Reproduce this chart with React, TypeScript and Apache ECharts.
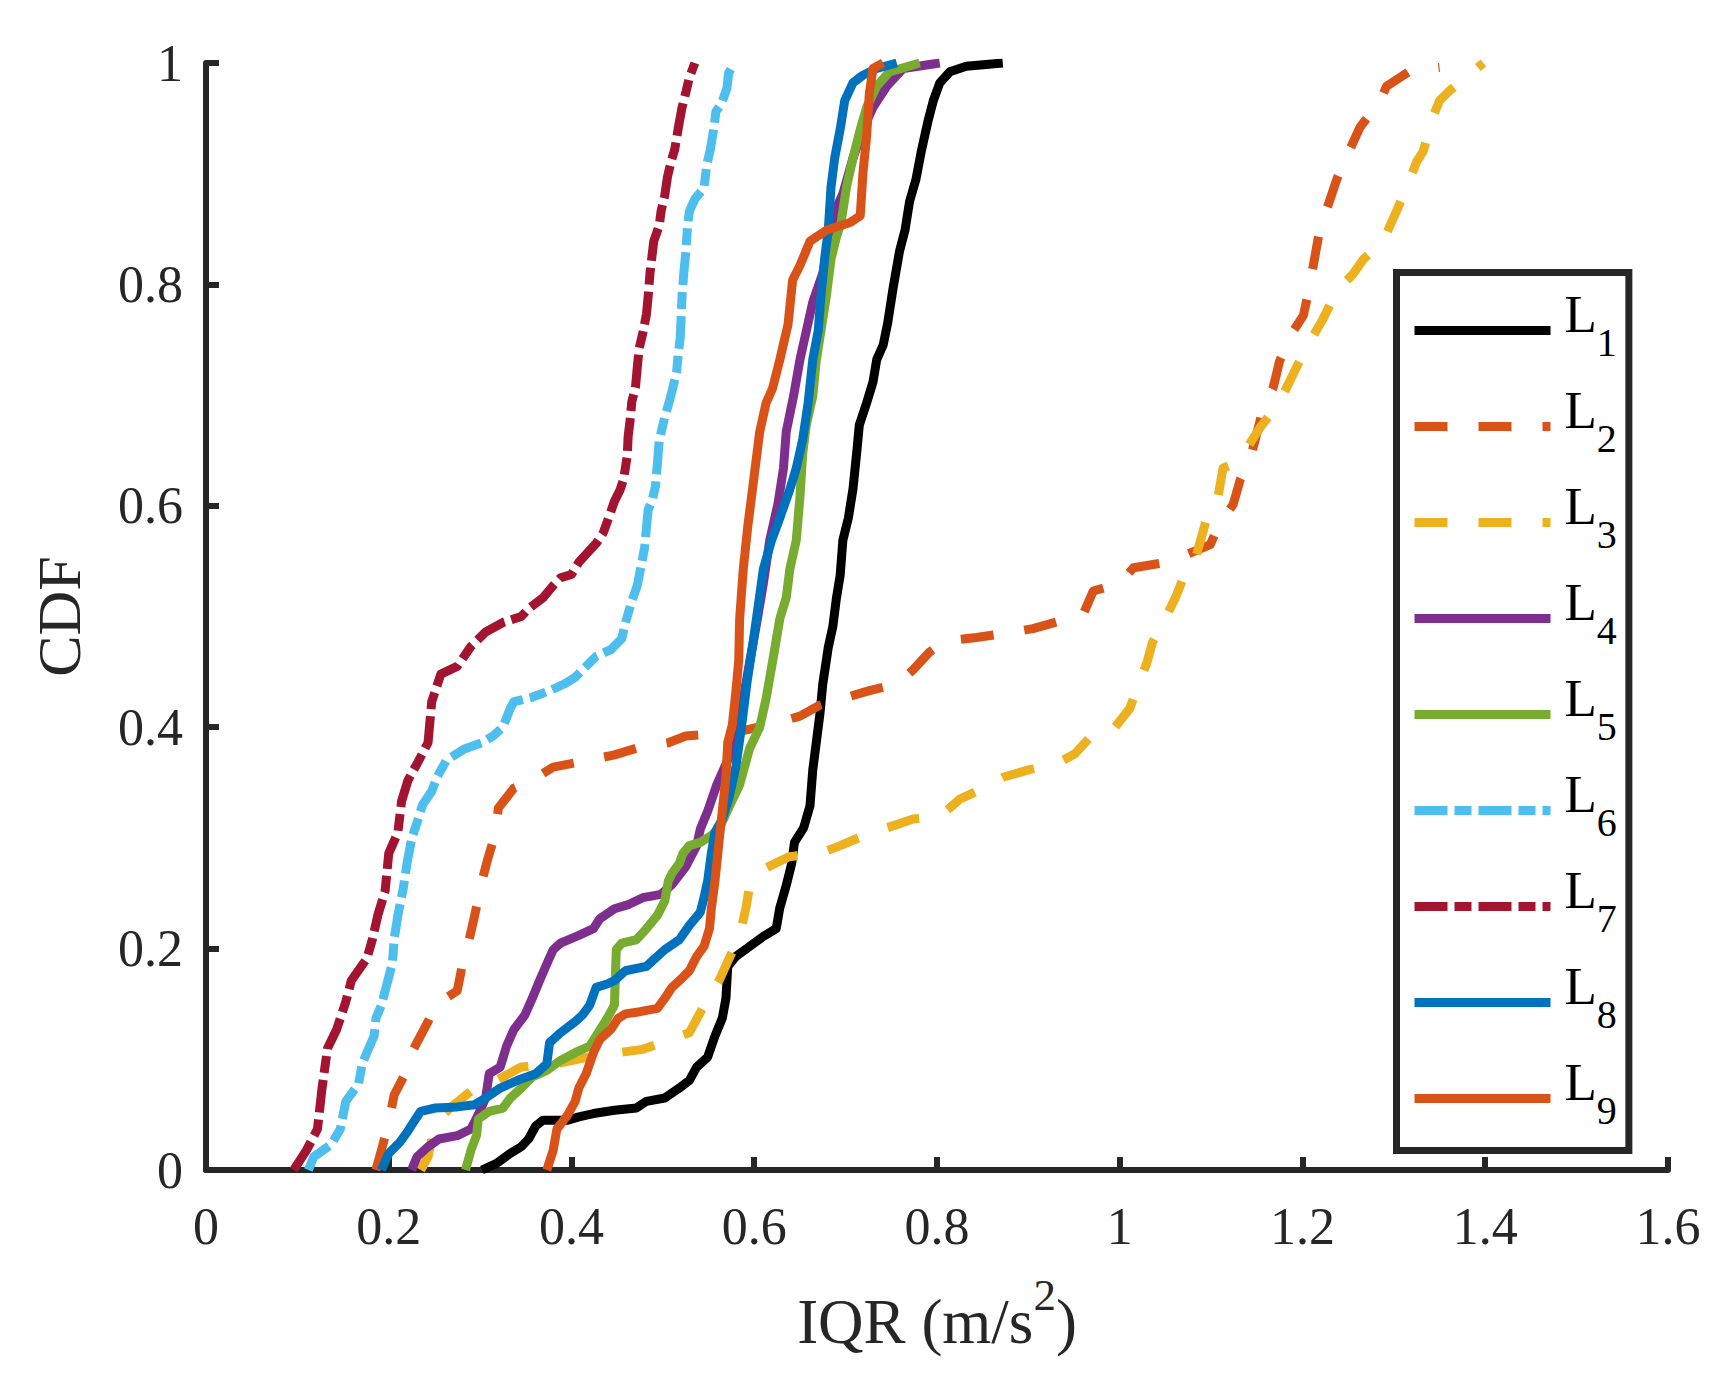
import React, { useEffect, useRef } from 'react';
import * as echarts from 'echarts';

// CDF curves of IQR as [IQR, CDF] pairs
const L1: number[][] = [
  [0.302, 0], [0.318, 0.006], [0.333, 0.015], [0.345, 0.021], [0.353, 0.028], [0.361, 0.04], [0.369, 0.045],
  [0.396, 0.045], [0.408, 0.048], [0.424, 0.051], [0.447, 0.054], [0.471, 0.056], [0.482, 0.062], [0.502, 0.065],
  [0.518, 0.074], [0.529, 0.081], [0.537, 0.093], [0.549, 0.102], [0.557, 0.121], [0.565, 0.137], [0.569, 0.155],
  [0.571, 0.184], [0.58, 0.193], [0.595, 0.202], [0.61, 0.211], [0.624, 0.218], [0.628, 0.237], [0.635, 0.257],
  [0.641, 0.277], [0.644, 0.296], [0.654, 0.309], [0.661, 0.329], [0.664, 0.361], [0.668, 0.387], [0.672, 0.413],
  [0.675, 0.439], [0.681, 0.472], [0.686, 0.491], [0.69, 0.517], [0.694, 0.537], [0.697, 0.569], [0.703, 0.589],
  [0.708, 0.615], [0.712, 0.647], [0.715, 0.673], [0.723, 0.693], [0.73, 0.712], [0.734, 0.732], [0.741, 0.745],
  [0.746, 0.765], [0.752, 0.797], [0.759, 0.83], [0.765, 0.849], [0.77, 0.875], [0.777, 0.895], [0.783, 0.921],
  [0.79, 0.947], [0.796, 0.966], [0.803, 0.982], [0.814, 0.992], [0.832, 0.997], [0.872, 1.0],
];
const L2: number[][] = [
  [0.186, 0], [0.192, 0.018], [0.2, 0.043], [0.206, 0.068], [0.22, 0.09], [0.227, 0.109], [0.243, 0.134],
  [0.251, 0.149], [0.275, 0.162], [0.28, 0.183], [0.288, 0.208], [0.294, 0.23], [0.302, 0.261], [0.308, 0.28],
  [0.316, 0.302], [0.32, 0.327], [0.337, 0.345], [0.357, 0.352], [0.38, 0.364], [0.412, 0.369], [0.447, 0.375],
  [0.471, 0.381], [0.506, 0.386], [0.525, 0.392], [0.565, 0.395], [0.588, 0.397], [0.62, 0.403], [0.65, 0.41],
  [0.672, 0.42], [0.697, 0.426], [0.726, 0.433], [0.756, 0.439], [0.774, 0.452], [0.792, 0.468], [0.81, 0.478],
  [0.843, 0.481], [0.876, 0.485], [0.905, 0.489], [0.935, 0.496], [0.96, 0.502], [0.971, 0.523], [1.0, 0.53],
  [1.015, 0.544], [1.044, 0.548], [1.073, 0.556], [1.099, 0.565], [1.11, 0.585], [1.124, 0.601], [1.132, 0.624],
  [1.143, 0.643], [1.153, 0.675], [1.157, 0.689], [1.168, 0.707], [1.175, 0.731], [1.19, 0.758], [1.201, 0.772],
  [1.208, 0.799], [1.212, 0.818], [1.219, 0.85], [1.227, 0.869], [1.238, 0.896], [1.248, 0.915], [1.263, 0.942],
  [1.285, 0.966], [1.292, 0.979], [1.318, 0.993], [1.35, 0.996],
];
const L3: number[][] = [
  [0.235, 0], [0.243, 0.012], [0.251, 0.043], [0.267, 0.056], [0.294, 0.074], [0.318, 0.081], [0.345, 0.093],
  [0.384, 0.096], [0.424, 0.103], [0.478, 0.109], [0.529, 0.124], [0.548, 0.153], [0.562, 0.172], [0.573, 0.192],
  [0.584, 0.211], [0.591, 0.237], [0.595, 0.257], [0.613, 0.273], [0.638, 0.283], [0.672, 0.286], [0.694, 0.293],
  [0.723, 0.303], [0.745, 0.309], [0.774, 0.317], [0.803, 0.319], [0.825, 0.335], [0.851, 0.345], [0.873, 0.355],
  [0.898, 0.361], [0.931, 0.367], [0.951, 0.376], [0.971, 0.394], [0.993, 0.398], [1.011, 0.417], [1.019, 0.435],
  [1.03, 0.459], [1.036, 0.477], [1.051, 0.5], [1.062, 0.519], [1.073, 0.542], [1.084, 0.556], [1.095, 0.588],
  [1.106, 0.601], [1.113, 0.634], [1.128, 0.639], [1.143, 0.657], [1.153, 0.67], [1.175, 0.694], [1.194, 0.726],
  [1.205, 0.744], [1.222, 0.768], [1.238, 0.795], [1.255, 0.809], [1.267, 0.823], [1.285, 0.836], [1.292, 0.846],
  [1.307, 0.874], [1.314, 0.887], [1.325, 0.911], [1.332, 0.92], [1.343, 0.952], [1.35, 0.966], [1.361, 0.975],
  [1.38, 0.988], [1.398, 1.0],
];
const L4: number[][] = [
  [0.225, 0], [0.231, 0.012], [0.243, 0.021], [0.255, 0.028], [0.275, 0.031], [0.29, 0.037], [0.298, 0.05],
  [0.306, 0.065], [0.31, 0.087], [0.322, 0.093], [0.329, 0.112], [0.337, 0.127], [0.349, 0.14], [0.357, 0.155],
  [0.365, 0.171], [0.375, 0.19], [0.38, 0.199], [0.388, 0.205], [0.408, 0.212], [0.424, 0.218], [0.431, 0.227],
  [0.447, 0.236], [0.463, 0.24], [0.478, 0.246], [0.498, 0.249], [0.51, 0.258], [0.525, 0.274], [0.537, 0.293],
  [0.541, 0.308], [0.549, 0.324], [0.559, 0.348], [0.573, 0.374], [0.581, 0.4], [0.588, 0.426], [0.595, 0.459],
  [0.602, 0.491], [0.61, 0.53], [0.617, 0.569], [0.626, 0.602], [0.632, 0.634], [0.635, 0.667], [0.643, 0.699],
  [0.65, 0.732], [0.657, 0.758], [0.664, 0.784], [0.675, 0.81], [0.683, 0.843], [0.69, 0.869], [0.697, 0.882],
  [0.708, 0.914], [0.719, 0.94], [0.73, 0.96], [0.745, 0.979], [0.763, 0.995], [0.803, 1.0],
];
const L5: number[][] = [
  [0.284, 0], [0.29, 0.018], [0.296, 0.031], [0.298, 0.046], [0.31, 0.053], [0.325, 0.056], [0.333, 0.065],
  [0.345, 0.074], [0.357, 0.084], [0.373, 0.09], [0.388, 0.099], [0.404, 0.106], [0.42, 0.112], [0.427, 0.121],
  [0.439, 0.137], [0.447, 0.149], [0.449, 0.199], [0.455, 0.205], [0.471, 0.208], [0.482, 0.218], [0.494, 0.23],
  [0.502, 0.243], [0.506, 0.261], [0.51, 0.268], [0.518, 0.277], [0.522, 0.286], [0.529, 0.293], [0.541, 0.296],
  [0.553, 0.302], [0.562, 0.309], [0.573, 0.329], [0.584, 0.348], [0.595, 0.381], [0.606, 0.4], [0.613, 0.426],
  [0.62, 0.459], [0.628, 0.498], [0.635, 0.517], [0.639, 0.543], [0.646, 0.569], [0.65, 0.608], [0.653, 0.647],
  [0.657, 0.673], [0.664, 0.699], [0.668, 0.732], [0.673, 0.758], [0.679, 0.79], [0.684, 0.823], [0.69, 0.843],
  [0.695, 0.856], [0.701, 0.888], [0.708, 0.914], [0.716, 0.94], [0.723, 0.96], [0.734, 0.979], [0.748, 0.992],
  [0.781, 1.0],
];
const L6: number[][] = [
  [0.112, 0], [0.118, 0.012], [0.137, 0.023], [0.147, 0.037], [0.153, 0.062], [0.161, 0.071], [0.167, 0.078],
  [0.171, 0.096], [0.176, 0.106], [0.184, 0.121], [0.186, 0.137], [0.192, 0.149], [0.198, 0.168], [0.204, 0.187],
  [0.206, 0.209], [0.21, 0.23], [0.216, 0.255], [0.22, 0.277], [0.225, 0.299], [0.231, 0.314], [0.237, 0.33],
  [0.247, 0.342], [0.253, 0.355], [0.263, 0.37], [0.282, 0.38], [0.302, 0.386], [0.314, 0.392], [0.325, 0.4],
  [0.333, 0.417], [0.337, 0.423], [0.357, 0.427], [0.376, 0.433], [0.392, 0.439], [0.404, 0.445], [0.416, 0.455],
  [0.427, 0.464], [0.443, 0.47], [0.455, 0.48], [0.46, 0.497], [0.466, 0.514], [0.472, 0.528], [0.476, 0.545],
  [0.48, 0.562], [0.482, 0.58], [0.484, 0.597], [0.488, 0.604], [0.492, 0.618], [0.494, 0.638], [0.496, 0.659],
  [0.502, 0.68], [0.507, 0.694], [0.511, 0.707], [0.515, 0.721], [0.517, 0.738], [0.519, 0.752], [0.52, 0.77],
  [0.521, 0.79], [0.523, 0.811], [0.525, 0.828], [0.527, 0.853], [0.529, 0.866], [0.535, 0.877], [0.545, 0.887],
  [0.548, 0.908], [0.552, 0.922], [0.556, 0.942], [0.558, 0.956], [0.564, 0.963], [0.57, 0.977], [0.572, 0.991],
  [0.578, 1.0],
];
const L7: number[][] = [
  [0.096, 0], [0.11, 0.018], [0.122, 0.037], [0.127, 0.074], [0.133, 0.11], [0.143, 0.127], [0.153, 0.152],
  [0.159, 0.171], [0.176, 0.191], [0.182, 0.208], [0.188, 0.23], [0.196, 0.252], [0.2, 0.286], [0.21, 0.305],
  [0.214, 0.333], [0.221, 0.352], [0.231, 0.367], [0.243, 0.386], [0.247, 0.423], [0.257, 0.448], [0.275, 0.455],
  [0.29, 0.473], [0.306, 0.486], [0.326, 0.495], [0.345, 0.5], [0.353, 0.507], [0.369, 0.517], [0.38, 0.528],
  [0.388, 0.535], [0.4, 0.538], [0.408, 0.549], [0.419, 0.559], [0.427, 0.566], [0.435, 0.576], [0.441, 0.59],
  [0.447, 0.604], [0.453, 0.614], [0.457, 0.624], [0.461, 0.645], [0.462, 0.663], [0.464, 0.676], [0.466, 0.694],
  [0.47, 0.707], [0.472, 0.725], [0.474, 0.742], [0.478, 0.756], [0.482, 0.773], [0.484, 0.79], [0.486, 0.811],
  [0.488, 0.825], [0.49, 0.839], [0.496, 0.853], [0.498, 0.866], [0.502, 0.88], [0.505, 0.897], [0.509, 0.911],
  [0.513, 0.922], [0.517, 0.942], [0.521, 0.96], [0.525, 0.973], [0.529, 0.987], [0.535, 1.0],
];
const L8: number[][] = [
  [0.192, 0], [0.2, 0.015], [0.212, 0.025], [0.22, 0.034], [0.227, 0.043], [0.235, 0.053], [0.251, 0.056],
  [0.275, 0.057], [0.294, 0.059], [0.306, 0.065], [0.322, 0.074], [0.341, 0.081], [0.361, 0.087], [0.373, 0.096],
  [0.376, 0.115], [0.388, 0.124], [0.404, 0.134], [0.412, 0.14], [0.42, 0.149], [0.427, 0.165], [0.439, 0.168],
  [0.447, 0.171], [0.459, 0.18], [0.482, 0.184], [0.49, 0.19], [0.502, 0.199], [0.518, 0.208], [0.529, 0.221],
  [0.541, 0.233], [0.545, 0.246], [0.549, 0.261], [0.553, 0.286], [0.557, 0.305], [0.565, 0.317], [0.572, 0.335],
  [0.58, 0.365], [0.586, 0.4], [0.592, 0.44], [0.599, 0.478], [0.61, 0.543], [0.619, 0.569], [0.628, 0.589],
  [0.639, 0.615], [0.646, 0.634], [0.653, 0.66], [0.659, 0.693], [0.664, 0.732], [0.67, 0.758], [0.673, 0.79],
  [0.677, 0.823], [0.681, 0.849], [0.684, 0.888], [0.688, 0.914], [0.694, 0.94], [0.699, 0.966], [0.708, 0.982],
  [0.719, 0.989], [0.734, 0.995], [0.756, 1.0],
];
const L9: number[][] = [
  [0.373, 0], [0.38, 0.018], [0.384, 0.037], [0.396, 0.05], [0.404, 0.062], [0.408, 0.074], [0.416, 0.087],
  [0.424, 0.106], [0.431, 0.118], [0.443, 0.127], [0.451, 0.137], [0.459, 0.141], [0.475, 0.143], [0.494, 0.146],
  [0.502, 0.155], [0.51, 0.165], [0.518, 0.171], [0.529, 0.18], [0.537, 0.193], [0.545, 0.202], [0.551, 0.218],
  [0.553, 0.236], [0.557, 0.261], [0.561, 0.293], [0.565, 0.324], [0.569, 0.355], [0.571, 0.386], [0.576, 0.402],
  [0.58, 0.433], [0.583, 0.46], [0.584, 0.498], [0.588, 0.543], [0.593, 0.582], [0.599, 0.621], [0.606, 0.667],
  [0.613, 0.693], [0.62, 0.706], [0.628, 0.732], [0.637, 0.764], [0.642, 0.804], [0.65, 0.817], [0.661, 0.839],
  [0.679, 0.849], [0.705, 0.856], [0.716, 0.862], [0.719, 0.901], [0.723, 0.934], [0.726, 0.973], [0.73, 0.995],
  [0.741, 1.0],
];

const curves = [L1, L2, L3, L4, L5, L6, L7, L8, L9];
const names = ['L1', 'L2', 'L3', 'L4', 'L5', 'L6', 'L7', 'L8', 'L9'];

// MATLAB default palette, L1 black
const colors = ['#000000', '#D95319', '#EDB120', '#7E2F8E', '#77AC30', '#4DBEEE', '#A2142F', '#0072BD', '#D95319'];
const DASHED = [33, 31];
const DASHDOT = [33, 7, 17, 7];
const dashes: any[] = ['solid', DASHED, DASHED, 'solid', 'solid', DASHDOT, DASHDOT, 'solid', 'solid'];

const FONT = '"Liberation Serif", "Times New Roman", serif';
const INK = '#262626';

const App: React.FC = () => {
  const chartRef = useRef<HTMLDivElement>(null);

  useEffect(() => {
    if (!chartRef.current) return;
    const chart = echarts.init(chartRef.current, undefined, { renderer: 'svg' });

    const option: any = {
      animation: false,
      backgroundColor: '#ffffff',
      grid: { left: 206, right: 64, top: 63, bottom: 218, containLabel: false },
      xAxis: {
        type: 'value',
        min: 0,
        max: 1.6,
        interval: 0.2,
        name: '{a|IQR (m/s}{b|2}{a|)}',
        nameLocation: 'middle',
        nameGap: 120,
        nameTextStyle: {
          rich: {
            a: { fontFamily: FONT, fontSize: 63, color: INK, lineHeight: 64 },
            b: { fontFamily: FONT, fontSize: 45, color: INK, lineHeight: 42, padding: [0, 0, 54, 0] },
          },
        },
        axisLine: { show: true, onZero: false, lineStyle: { color: INK, width: 6 } },
        axisTick: { show: true, inside: true, length: 13, lineStyle: { color: INK, width: 6 } },
        axisLabel: { fontFamily: FONT, fontSize: 52, color: INK, margin: 30 },
        splitLine: { show: false },
      },
      yAxis: {
        type: 'value',
        min: 0,
        max: 1,
        interval: 0.2,
        name: 'CDF',
        nameLocation: 'middle',
        nameGap: 116,
        nameTextStyle: { fontFamily: FONT, fontSize: 62, color: INK },
        axisLine: { show: true, onZero: false, lineStyle: { color: INK, width: 6 } },
        axisTick: { show: true, inside: true, length: 13, lineStyle: { color: INK, width: 6 } },
        axisLabel: { fontFamily: FONT, fontSize: 52, color: INK, margin: 23 },
        splitLine: { show: false },
      },
      legend: {
        orient: 'vertical',
        left: 1396.5,
        top: 272.5,
        padding: [14.5, 12, 8.5, 13.5],
        backgroundColor: '#ffffff',
        borderColor: INK,
        borderWidth: 7,
        borderRadius: 0,
        itemWidth: 136,
        itemHeight: 20,
        itemGap: 9,
        selectedMode: false,
        data: names,
        lineStyle: { width: 9 },
        itemStyle: { color: 'rgba(0,0,0,0)', borderWidth: 0 },
        formatter: (name: string) => `{l|L}{s|${name.slice(1)}}`,
        textStyle: {
          rich: {
            l: { fontFamily: FONT, fontSize: 53, color: '#000', lineHeight: 40, padding: [0, 0, 34, 9] },
            s: { fontFamily: FONT, fontSize: 40, color: '#000', lineHeight: 30, padding: [24, 0, 0, 0] },
          },
        },
      },
      series: curves.map((pts, i) => ({
        name: names[i],
        type: 'line',
        data: pts,
        showSymbol: false,
        symbol: 'none',
        clip: true,
        lineStyle: { color: colors[i], width: 9, type: dashes[i], cap: 'butt', join: 'round' },
        itemStyle: { color: colors[i] },
        emphasis: { disabled: true },
        z: 2 + i,
      })),
    };

    chart.setOption(option);

    return () => {
      chart.dispose();
    };
  }, []);

  return (
    <div
      ref={chartRef}
      style={{ position: 'absolute', left: 0, top: 0, width: '1732px', height: '1388px', background: '#fff' }}
    />
  );
};

export default App;
